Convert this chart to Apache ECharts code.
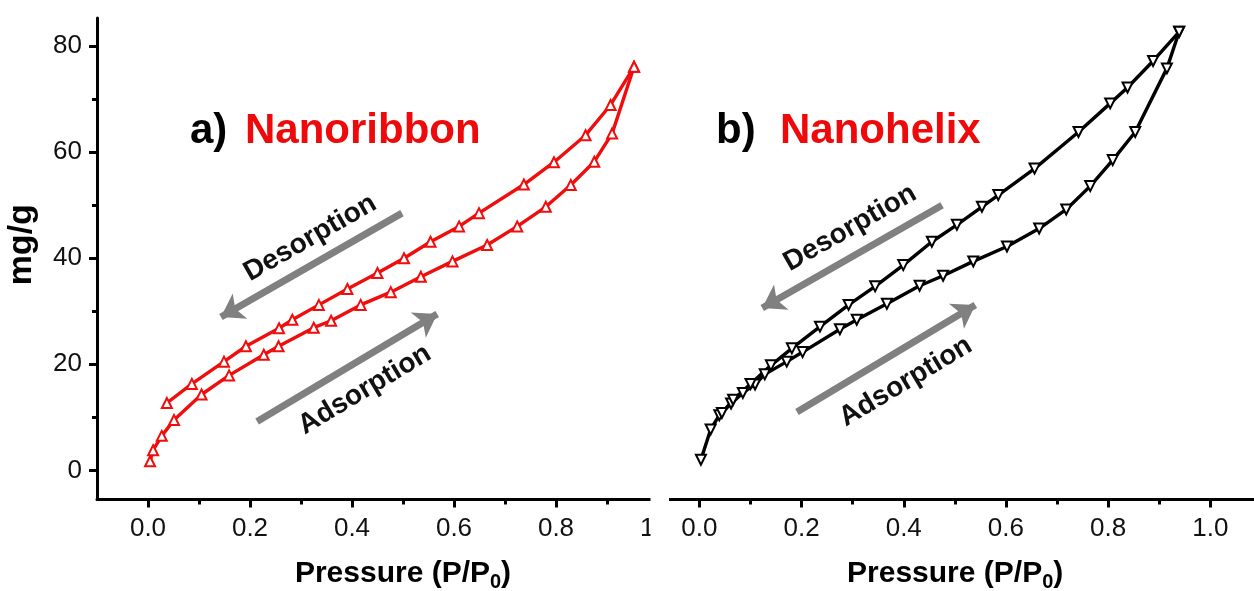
<!DOCTYPE html>
<html>
<head>
<meta charset="utf-8">
<title>N2 sorption isotherms</title>
<script src="https://cdn.jsdelivr.net/npm/echarts@6/dist/echarts.min.js"></script>
<style>
  html, body { margin: 0; padding: 0; background: #ffffff; }
  #chart { width: 1254px; height: 591px; }
</style>
</head>
<body>
<div id="chart"></div>
<script>
// Axis ticks
const pressureTicks = [0, 0.2, 0.4, 0.6, 0.8, 1.0];
const pressureMinorTicks = [0.1, 0.3, 0.5, 0.7, 0.9];
const uptakeTicks = [0, 20, 40, 60, 80];
const uptakeMinorTicks = [10, 30, 50, 70];

// a) Nanoribbon isotherm (P/P0, mg/g)
const ribbonAdsP = [0.004, 0.010, 0.027, 0.051, 0.105, 0.159, 0.227, 0.256, 0.325, 0.359, 0.417, 0.476, 0.535, 0.597, 0.665, 0.724, 0.780, 0.829, 0.875, 0.910, 0.953];
const ribbonAdsQ = [1.7, 3.8, 6.5, 9.5, 14.3, 17.9, 21.8, 23.4, 26.9, 28.2, 31.2, 33.6, 36.5, 39.4, 42.5, 46.0, 49.7, 53.8, 58.2, 63.5, 76.1];
const ribbonDesP = [0.953, 0.907, 0.858, 0.796, 0.737, 0.649, 0.610, 0.554, 0.502, 0.450, 0.391, 0.335, 0.283, 0.257, 0.192, 0.149, 0.086, 0.037];
const ribbonDesQ = [76.1, 68.9, 63.2, 58.1, 53.9, 48.5, 46.0, 43.1, 40.0, 37.2, 34.2, 31.2, 28.4, 26.8, 23.4, 20.5, 16.3, 12.7];

// b) Nanohelix isotherm (P/P0, mg/g)
const helixAdsP = [0.003, 0.022, 0.039, 0.062, 0.085, 0.109, 0.128, 0.171, 0.202, 0.275, 0.308, 0.367, 0.431, 0.477, 0.536, 0.602, 0.665, 0.718, 0.765, 0.809, 0.853, 0.915, 0.939];
const helixAdsQ = [2.0, 7.7, 10.4, 12.6, 14.6, 16.2, 18.1, 20.5, 22.3, 26.6, 28.4, 31.4, 34.8, 36.7, 39.4, 42.2, 45.6, 49.2, 53.6, 58.5, 63.8, 75.8, 82.7];
const helixDesP = [0.939, 0.888, 0.838, 0.804, 0.742, 0.656, 0.585, 0.553, 0.504, 0.455, 0.399, 0.344, 0.292, 0.236, 0.181, 0.140, 0.100, 0.066, 0.044];
const helixDesQ = [82.7, 77.2, 72.2, 69.2, 63.8, 56.9, 51.9, 49.7, 46.3, 43.1, 38.7, 34.7, 31.2, 27.1, 23.0, 19.8, 16.3, 13.3, 10.8];

// Direction arrows (tail, head) and their captions, in data units
const phaseNames = ['Desorption', 'Adsorption'];
const ribbonArrows = [[[0.498, 48.5], [0.143, 28.9]], [[0.214, 9.2], [0.567, 29.5]]];
const helixArrows = [[[0.475, 50.0], [0.123, 30.6]], [[0.191, 11.0], [0.540, 31.2]]];
const ribbonCaptionAt = [[0.318, 43.8], [0.425, 15.2]];
const helixCaptionAt = [[0.295, 45.7], [0.404, 16.7]];

const FONT = '"Liberation Sans", Arial, Helvetica, sans-serif';
const RED = '#f00d0d';
const INK = '#000000';
const ARROW = '#808080';

// panel b is trimmed at the right edge of the figure
const xRangeA = [-0.1, 1.1];
const xRangeB = [-0.1, 1.0855];
const yRange = [-5.5, 85.3];

const zip = (xs, ys) => xs.map((x, i) => [x, ys[i]]);

function pressureAxes(gridIndex, range, z, namePad) {
  const tickStyle = { color: INK, width: 3 };
  return [
    {
      type: 'value', gridIndex, position: 'bottom', min: range[0], max: range[1], z,
      name: 'Pressure (P/P{sub|0})', nameLocation: 'middle', nameGap: 55,
      nameTextStyle: {
        fontFamily: FONT, fontSize: 30, fontWeight: 'bold', color: INK, lineHeight: 30,
        padding: namePad,
        rich: { sub: { fontFamily: FONT, fontSize: 20, fontWeight: 'bold', color: INK, verticalAlign: 'bottom', lineHeight: 38 } }
      },
      axisLine: { show: true, onZero: false, lineStyle: { color: INK, width: 3 } },
      axisTick: { show: true, customValues: pressureTicks, length: 8, lineStyle: tickStyle },
      axisLabel: { customValues: pressureTicks, formatter: v => v.toFixed(1), margin: 16,
                   fontFamily: FONT, fontSize: 26, color: '#111' },
      splitLine: { show: false }
    },
    {
      type: 'value', gridIndex, position: 'bottom', min: range[0], max: range[1], z,
      axisLine: { show: false, onZero: false },
      axisTick: { show: true, customValues: pressureMinorTicks, length: 5, lineStyle: tickStyle },
      axisLabel: { show: false },
      splitLine: { show: false }
    }
  ];
}

function uptakeAxes(gridIndex, visible, z) {
  const tickStyle = { color: INK, width: 3 };
  if (!visible) {
    return [{ type: 'value', gridIndex, min: yRange[0], max: yRange[1], show: false, z }];
  }
  return [
    {
      type: 'value', gridIndex, position: 'left', min: yRange[0], max: yRange[1], z,
      name: 'mg/g', nameLocation: 'middle', nameGap: 58, nameRotate: 90,
      nameTextStyle: { fontFamily: FONT, fontSize: 34, fontWeight: 'bold', color: INK, padding: [0, 0, 0, 28] },
      axisLine: { show: true, onZero: false, lineStyle: { color: INK, width: 3 } },
      axisTick: { show: true, customValues: uptakeTicks, length: 8, lineStyle: tickStyle },
      axisLabel: { customValues: uptakeTicks, margin: 15, fontFamily: FONT, fontSize: 26, color: '#111' },
      splitLine: { show: false }
    },
    {
      type: 'value', gridIndex, position: 'left', min: yRange[0], max: yRange[1], z,
      axisLine: { show: false, onZero: false },
      axisTick: { show: true, customValues: uptakeMinorTicks, length: 5, lineStyle: tickStyle },
      axisLabel: { show: false },
      splitLine: { show: false }
    }
  ];
}

function arrowMarks(arrows, z) {
  return {
    silent: true,
    animation: false,
    z,
    symbol: ['none', 'arrow'],
    symbolSize: 22,
    label: { show: false },
    lineStyle: { color: ARROW, width: 7, type: 'solid', opacity: 1 },
    emphasis: { disabled: true },
    data: arrows.map(([a, b]) => [{ coord: a }, { coord: b }])
  };
}

function branch(name, xs, ys, color, xAxisIndex, yAxisIndex, z, rotate, extra) {
  return Object.assign({
    name, type: 'line', xAxisIndex, yAxisIndex, z,
    data: zip(xs, ys),
    symbol: 'emptyTriangle', symbolSize: 10, symbolRotate: rotate,
    showAllSymbol: true,
    lineStyle: { color, width: 3.4 },
    itemStyle: { color, borderColor: color, borderWidth: 1.8 },
    emphasis: { disabled: true },
    animation: false
  }, extra || {});
}

const chart = echarts.init(document.getElementById('chart'), null, { renderer: 'canvas' });

const option = {
  backgroundColor: '#ffffff',
  animation: false,
  grid: [
    { left: 97, top: 18, width: 612, height: 481.5, containLabel: false, outerBoundsMode: 'none' },
    { left: 648.3, top: 18, width: 605.7, height: 481.5, containLabel: false, outerBoundsMode: 'none' }
  ],
  xAxis: [...pressureAxes(0, xRangeA, 0, 0), ...pressureAxes(1, xRangeB, 20, [0, 0, 0, 8])],
  yAxis: [...uptakeAxes(0, true, 0), ...uptakeAxes(1, false, 20)],
  series: [
    branch('Nanoribbon adsorption', ribbonAdsP, ribbonAdsQ, RED, 0, 0, 2, 0, { markLine: arrowMarks(ribbonArrows, 5) }),
    branch('Nanoribbon desorption', ribbonDesP, ribbonDesQ, RED, 0, 0, 2, 0),
    branch('Nanohelix adsorption', helixAdsP, helixAdsQ, INK, 2, 2, 20, 180, { markLine: arrowMarks(helixArrows, 21) }),
    branch('Nanohelix desorption', helixDesP, helixDesQ, INK, 2, 2, 20, 180)
  ]
};

chart.setOption(option);

// Captions along the arrows, placed once the axes are laid out
function captions(gridIndex, arrows, at) {
  return at.map((pos, i) => {
    const [tail, head] = arrows[i].map(p => chart.convertToPixel({ gridIndex }, p));
    const lo = tail[0] < head[0] ? tail : head;
    const hi = tail[0] < head[0] ? head : tail;
    const angle = Math.atan2(lo[1] - hi[1], hi[0] - lo[0]);
    const c = chart.convertToPixel({ gridIndex }, pos);
    return {
      type: 'text', z: 30, x: c[0], y: c[1], rotation: angle, silent: true,
      style: { text: phaseNames[i], fontFamily: FONT, fontSize: 28, fontWeight: 'bold',
               fill: '#111', align: 'center', verticalAlign: 'middle' }
    };
  });
}

const graphics = [
  // second panel sits over the tail of the first panel's axis
  { type: 'rect', z: 10, silent: true, shape: { x: 650.5, y: 0, width: 604, height: 591 }, style: { fill: '#ffffff' } },
  { type: 'rect', z: 25, silent: true, shape: { x: 650.5, y: 485, width: 18.5, height: 30 }, style: { fill: '#ffffff' } },
  ...captions(0, ribbonArrows, ribbonCaptionAt),
  ...captions(1, helixArrows, helixCaptionAt),
  { type: 'text', z: 30, x: 190, y: 131, silent: true,
    style: { text: 'a)', fontFamily: FONT, fontSize: 42, fontWeight: 'bold', fill: '#000', verticalAlign: 'middle' } },
  { type: 'text', z: 30, x: 245, y: 131, silent: true,
    style: { text: 'Nanoribbon', fontFamily: FONT, fontSize: 42, fontWeight: 'bold', fill: '#ee0a0a', verticalAlign: 'middle' } },
  { type: 'text', z: 30, x: 716, y: 131, silent: true,
    style: { text: 'b)', fontFamily: FONT, fontSize: 42, fontWeight: 'bold', fill: '#000', verticalAlign: 'middle' } },
  { type: 'text', z: 30, x: 780, y: 131, silent: true,
    style: { text: 'Nanohelix', fontFamily: FONT, fontSize: 42, fontWeight: 'bold', fill: '#ee0a0a', verticalAlign: 'middle' } }
];

chart.setOption({ graphic: graphics });
</script>
</body>
</html>
